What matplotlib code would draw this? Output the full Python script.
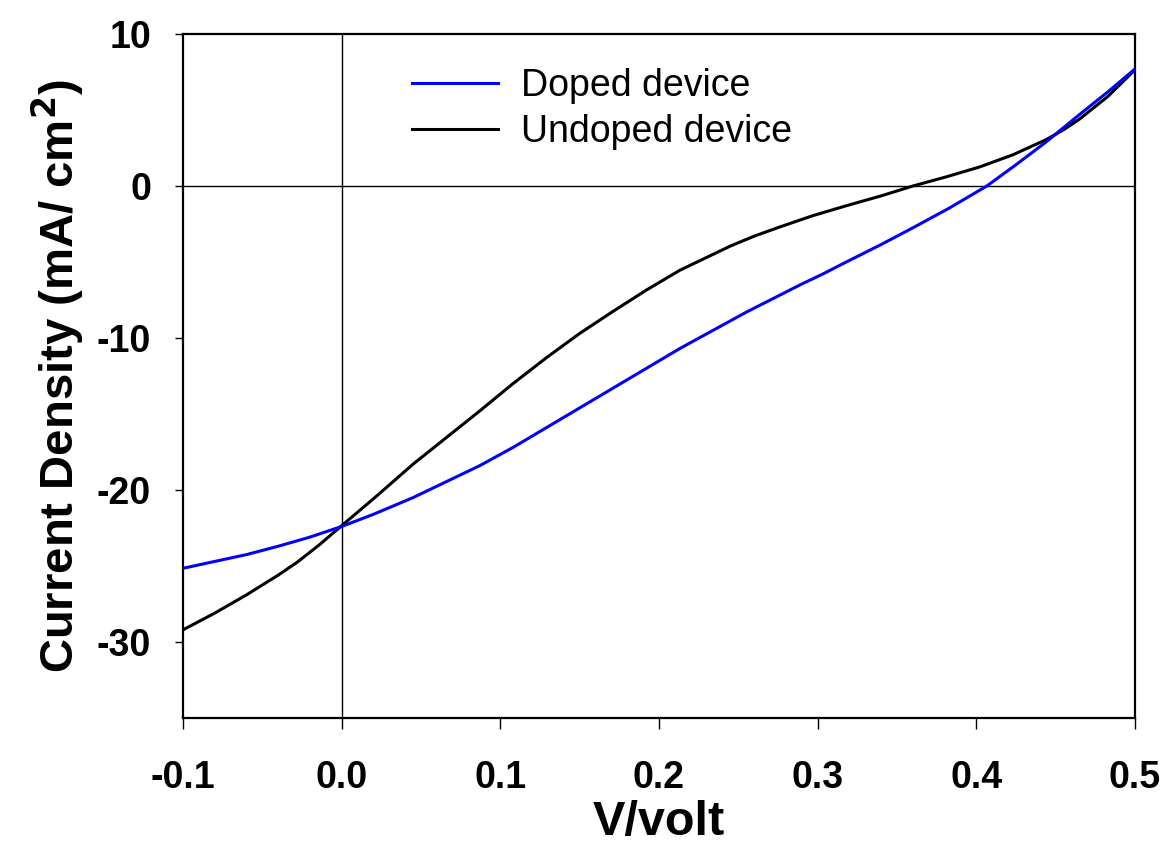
import numpy as np
import matplotlib
matplotlib.use("Agg")
import matplotlib.pyplot as plt

plt.rcParams['font.family'] = ['Liberation Sans', 'DejaVu Sans']

# J-V curves
v_doped = [-0.1, -0.08, -0.06, -0.04, -0.02, 0.0, 0.02, 0.045, 0.065, 0.087, 0.108, 0.129, 0.15,
           0.171, 0.192, 0.213, 0.234, 0.255, 0.272, 0.289, 0.304, 0.318, 0.34, 0.36, 0.383,
           0.4066, 0.425, 0.444, 0.465, 0.483, 0.5]
j_doped = [-25.15, -24.7, -24.25, -23.7, -23.1, -22.4, -21.6, -20.5, -19.5, -18.4, -17.2, -15.9, -14.6,
           -13.3, -12.0, -10.7, -9.5, -8.3, -7.4, -6.5, -5.75, -5.0, -3.85, -2.75, -1.45,
           0.0, 1.4, 2.9, 4.7, 6.2, 7.7]

v_undoped = [-0.1, -0.08, -0.06, -0.04, -0.028, -0.014, 0.0, 0.022, 0.045, 0.066, 0.087, 0.108, 0.129,
             0.15, 0.171, 0.192, 0.213, 0.23, 0.245, 0.26, 0.276, 0.297, 0.318, 0.34, 0.36,
             0.381, 0.402, 0.423, 0.444, 0.455, 0.465, 0.483, 0.5]
j_undoped = [-29.2, -28.1, -26.9, -25.6, -24.75, -23.6, -22.35, -20.4, -18.3, -16.55, -14.8, -13.0, -11.3,
             -9.7, -8.25, -6.85, -5.55, -4.7, -3.95, -3.3, -2.7, -1.95, -1.3, -0.65, 0.0,
             0.6, 1.25, 2.05, 3.05, 3.7, 4.4, 5.9, 7.65]

x_ticks = [-0.1, 0.0, 0.1, 0.2, 0.3, 0.4, 0.5]
y_ticks = [10, 0, -10, -20, -30]

fig = plt.figure(figsize=(11.68, 8.46), dpi=100)
ax = fig.add_axes([183/1168, 1 - 718/846, (1135-183)/1168, (718-34)/846])

ax.axhline(0, color='black', lw=1.0, zorder=1)
ax.axvline(0, color='black', lw=1.0, zorder=1)

ax.plot(v_doped, j_doped, color='#0000ff', lw=2.2, label='Doped device', zorder=3)
ax.plot(v_undoped, j_undoped, color='black', lw=2.2, label='Undoped device', zorder=2)

ax.set_xlim(-0.1, 0.5)
ax.set_ylim(-35, 10)
ax.set_xticks(x_ticks)
ax.set_xticklabels([f"{t:.1f}" for t in x_ticks])
ax.set_yticks(y_ticks)
ax.set_yticklabels([str(t) for t in y_ticks])

for s in ax.spines.values():
    s.set_linewidth(1.6)
ax.tick_params(axis='both', direction='out', labelsize=27, width=1.0)
ax.tick_params(axis='y', length=6, pad=17)
ax.tick_params(axis='x', length=8, pad=22)
ax.tick_params(top=False, right=False)
for lbl in ax.get_xticklabels() + ax.get_yticklabels():
    lbl.set_fontweight('bold')

ax.set_xlabel('V/volt', fontsize=35, fontweight='bold', labelpad=3)
ax.set_ylabel('Current Density (mA/ cm$^\\mathbf{2}$)', fontsize=34, fontweight='bold', labelpad=8)

ax.legend(loc='upper left', bbox_to_anchor=(412/1168, 1 - 68/846), bbox_transform=fig.transFigure,
          frameon=False, fontsize=27, borderpad=0, borderaxespad=0,
          handlelength=2.3, handletextpad=0.6, labelspacing=0.28)

fig.savefig('out.png', dpi=100)
